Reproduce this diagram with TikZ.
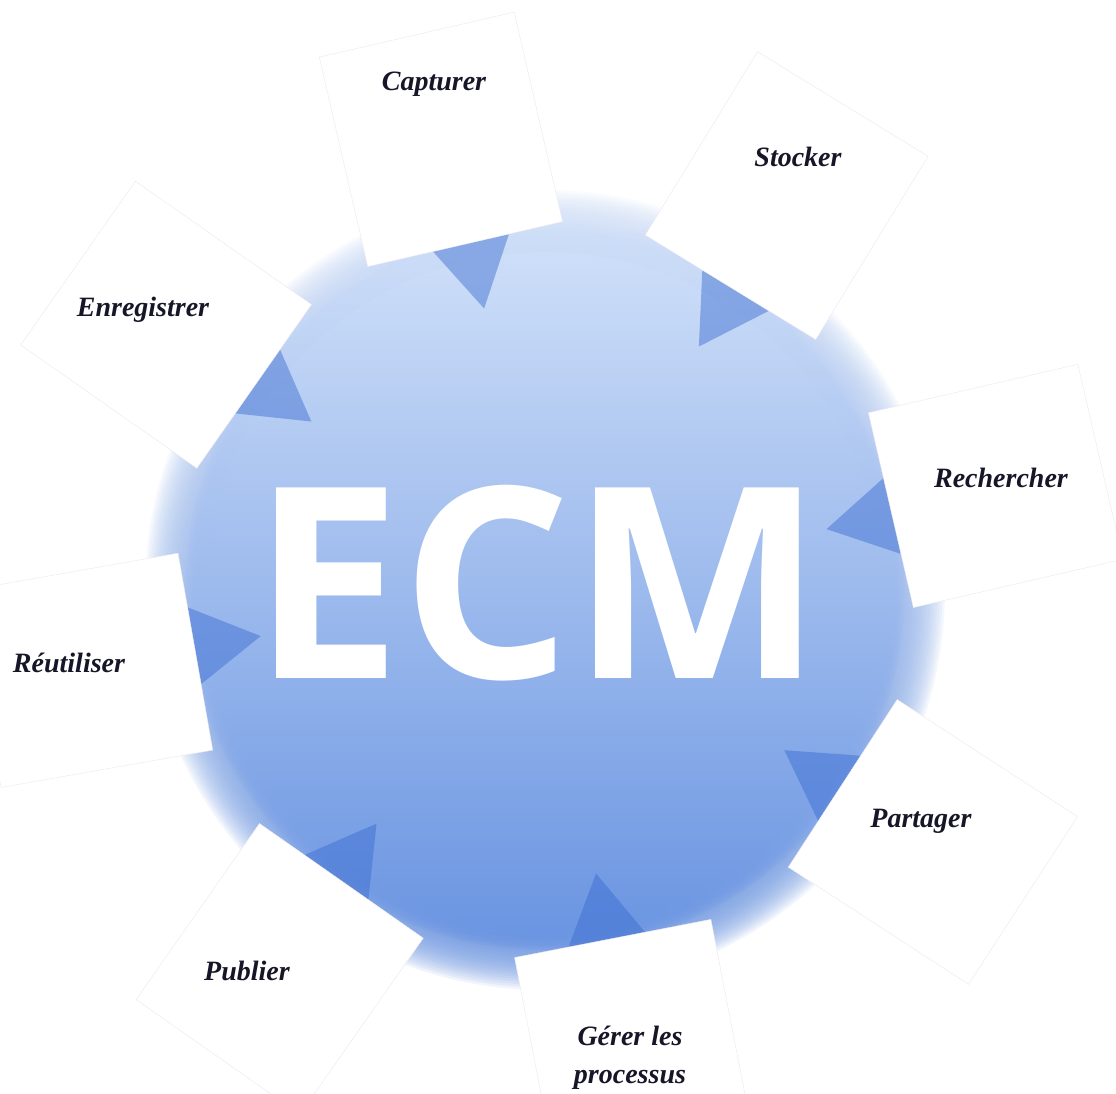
\documentclass[tikz,border=0pt]{standalone}
\usepackage{fontspec}
\setmainfont{Liberation Serif}
\newfontfamily\ecmfont{Open Sans}

\definecolor{disctop}{RGB}{205,222,248}
\definecolor{discmid}{RGB}{128,167,233}
\definecolor{discbot}{RGB}{108,150,226}
\definecolor{tridark}{RGB}{55,105,208}
\definecolor{boxline}{RGB}{234,232,241}
\definecolor{labelink}{RGB}{22,22,40}

\begin{document}
\begin{tikzpicture}[x=1pt,y=1pt,
  lbl/.style={font=\fontsize{28}{38}\selectfont\bfseries\itshape, text=labelink, anchor=base, inner sep=0pt, align=center},
  labelbox/.style={fill=white, draw=boxline, line width=0.4pt},
  wedge/.style={fill=tridark, fill opacity=0.45, draw=none},
  discfill/.style={top color=disctop, middle color=discmid, bottom color=discbot, draw=none},
  ecmtext/.style={font=\ecmfont\fontsize{267}{267}\selectfont\bfseries, text=white, anchor=base, inner sep=0pt}]
\useasboundingbox (-545,-503) rectangle (571,590);
\fill[white] (-545,-503) rectangle (571,590);
% blue disc, lighter towards the top, with a soft outer edge
\foreach \r in {400,397.5,...,362} {
  \shade[discfill, opacity=0.1] (0,0) circle (\r);
}
\foreach \r in {360,357.5,...,340} {
  \shade[discfill, opacity=0.35] (0,0) circle (\r);
}
\shade[discfill] (0,0) circle (338);
% sections: darker wedge + white label box
\foreach \a in {103,58.5,13,-33,-79,-125,-170,145} {
  \begin{scope}[rotate=\a-90]
    \fill[wedge] (-33,355) -- (45,355) -- (4,288) -- cycle;
    \draw[labelbox] (-100,355) rectangle (100,570);
  \end{scope}
}
% central title
\node[ecmtext] (ecm) at (-7,-88) {ECM};
% labels
\node[lbl] (cap) at (-111,499) {Capturer};
\node[lbl] (sto) at (253,423) {Stocker};
\node[lbl] (rec) at (456,103) {Rechercher};
\node[lbl] (par) at (376,-237) {Partager};
\node[lbl] (ger) at (85,-493) {Gérer les\\processus};
\node[lbl] (pub) at (-298,-390) {Publier};
\node[lbl] (reu) at (-476,-82) {Réutiliser};
\node[lbl] (enr) at (-402,273) {Enregistrer};
\end{tikzpicture}
\end{document}
